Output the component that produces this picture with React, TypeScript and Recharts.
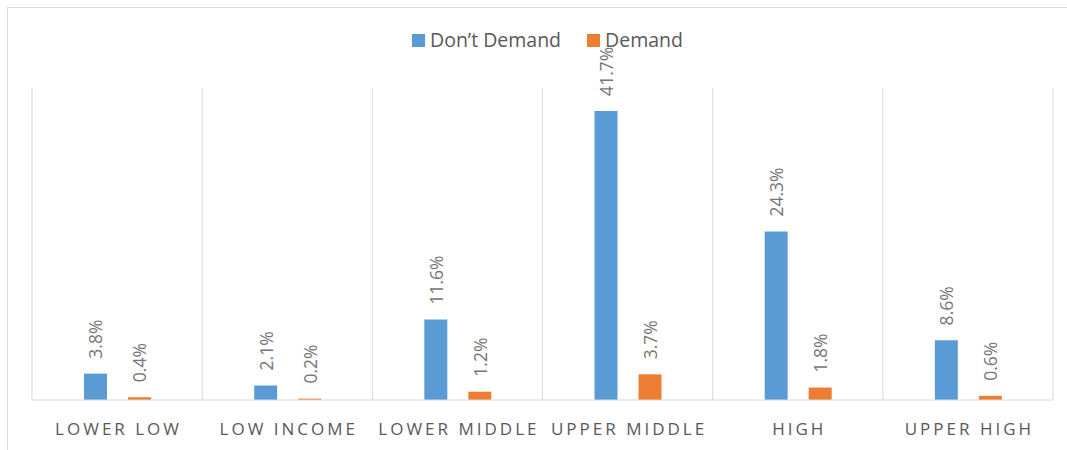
import React from 'react';
import {
    BarChart,
    Bar,
    XAxis,
    YAxis,
    CartesianGrid,
    Legend,
    LabelList,
} from 'recharts';

// income groups along the x axis
const categories = [
    'LOWER LOW',
    'LOW INCOME',
    'LOWER MIDDLE',
    'UPPER MIDDLE',
    'HIGH',
    'UPPER HIGH',
];

// shares in percent
const dontDemand = [3.8, 2.1, 11.6, 41.7, 24.3, 8.6];
const demand = [0.4, 0.2, 1.2, 3.7, 1.8, 0.6];

const seriesOrder = ['Don’t Demand', 'Demand'];

const BLUE = '#5B9BD5';
const ORANGE = '#ED7D31';
const GRID = '#d9d9d9';
const TEXT = '#595959';
const FONT = '"Open Sans", sans-serif';

const chartData = categories.map((name, i) => ({
    name,
    dont: dontDemand[i],
    demand: demand[i],
}));

const CategoryTick = (props: any) => {
    const { x, y, payload } = props;
    return (
        <text
            x={x + 1.5}
            y={y + 27}
            textAnchor="middle"
            fill={TEXT}
            fontFamily={FONT}
            fontSize={17}
            letterSpacing={3}
        >
            {payload.value}
        </text>
    );
};

const RotatedLabel = (props: any) => {
    const { x, y, width, value } = props;
    const cx = x + width / 2;
    const cy = y - 15;
    return (
        <text
            x={cx}
            y={cy}
            transform={`rotate(-90, ${cx}, ${cy})`}
            textAnchor="start"
            dominantBaseline="central"
            fill="#767676"
            fontFamily={FONT}
            fontSize={17.5}
        >
            {`${Number(value).toFixed(1)}%`}
        </text>
    );
};

const LegendContent = (props: any) => {
    // keep the series order as drawn, not alphabetical
    const items = [...(props.payload || [])].sort(
        (a: any, b: any) => seriesOrder.indexOf(a.value) - seriesOrder.indexOf(b.value)
    );
    return (
        <div style={{ display: 'flex', alignItems: 'center' }}>
            {items.map((entry: any, i: number) => (
                <div
                    key={entry.value}
                    style={{
                        display: 'flex',
                        alignItems: 'center',
                        marginLeft: i === 0 ? 0 : 26,
                    }}
                >
                    <span
                        style={{
                            width: 13,
                            height: 13,
                            background: entry.color,
                            display: 'inline-block',
                            marginRight: 5,
                        }}
                    />
                    <span
                        style={{
                            fontFamily: FONT,
                            fontSize: 19.5,
                            color: TEXT,
                            lineHeight: '26px',
                        }}
                    >
                        {entry.value}
                    </span>
                </div>
            ))}
        </div>
    );
};

export default function App() {
    return (
        <div
            style={{
                position: 'fixed',
                left: 0,
                top: 0,
                width: 1067,
                height: 450,
                background: '#fff',
                overflow: 'hidden',
            }}
        >
            <div
                style={{
                    position: 'absolute',
                    left: 7,
                    top: 7,
                    width: 1100,
                    height: 500,
                    borderTop: `1px solid ${GRID}`,
                    borderLeft: `1px solid ${GRID}`,
                }}
            />
            <BarChart
                width={1067}
                height={450}
                data={chartData}
                margin={{ top: 62, right: 14, bottom: 0, left: 32 }}
                barSize={23}
                barGap={21}
            >
                <CartesianGrid
                    horizontal={false}
                    stroke={GRID}
                    verticalCoordinatesGenerator={({ offset }: any) =>
                        categories
                            .map((_, i) => offset.left + (i * offset.width) / categories.length)
                            .concat(offset.left + offset.width)
                    }
                />
                <XAxis
                    dataKey="name"
                    height={50}
                    axisLine={{ stroke: GRID }}
                    tickLine={false}
                    tick={<CategoryTick />}
                    interval={0}
                />
                <YAxis hide domain={[0, 45]} />
                <Legend
                    verticalAlign="top"
                    align="left"
                    content={<LegendContent />}
                    wrapperStyle={{ top: 27, left: 412, width: 'auto' }}
                />
                <Bar
                    dataKey="dont"
                    name="Don’t Demand"
                    fill={BLUE}
                    isAnimationActive={false}
                >
                    <LabelList dataKey="dont" content={<RotatedLabel />} />
                </Bar>
                <Bar
                    dataKey="demand"
                    name="Demand"
                    fill={ORANGE}
                    isAnimationActive={false}
                >
                    <LabelList dataKey="demand" content={<RotatedLabel />} />
                </Bar>
            </BarChart>
        </div>
    );
}
